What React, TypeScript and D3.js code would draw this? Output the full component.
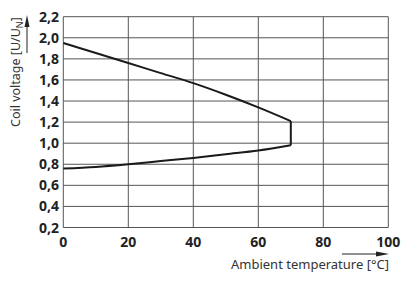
import React from "react";
import * as d3 from "d3";

const xTicks = [0, 20, 40, 60, 80, 100];
const yTicks = [0.2, 0.4, 0.6, 0.8, 1.0, 1.2, 1.4, 1.6, 1.8, 2.0, 2.2];
const upperTemp = [0, 10, 20, 30, 40, 50, 60, 70];
const upperVolt = [1.95, 1.855, 1.76, 1.665, 1.57, 1.46, 1.34, 1.21];
const lowerTemp = [70, 60, 50, 40, 30, 20, 10, 0];
const lowerVolt = [0.98, 0.93, 0.895, 0.86, 0.83, 0.80, 0.775, 0.76];

export default function App() {
  const W = 408, H = 287;
  const x = d3.scaleLinear().domain([0, 100]).range([63.3, 388.3]);
  const y = d3.scaleLinear().domain([0.2, 2.2]).range([227.5, 16.7]);
  const line = d3.line<[number, number]>().x(d => x(d[0])).y(d => y(d[1])).curve(d3.curveMonotoneX);
  const up = upperTemp.map((t, i) => [t, upperVolt[i]] as [number, number]);
  const lo = lowerTemp.map((t, i) => [t, lowerVolt[i]] as [number, number]).reverse();
  const pathUp = line(up) || "";
  const pathLo = line(lo) || "";
  const vert = `M${x(upperTemp[upperTemp.length - 1])},${y(upperVolt[upperVolt.length - 1])}L${x(lowerTemp[0])},${y(lowerVolt[0])}`;
  const font = "'Noto Sans', sans-serif";
  return (
    <svg width={W} height={H} style={{ position: "absolute", left: 0, top: 0, background: "#fff" }} fontFamily={font}>
      <rect width={W} height={H} fill="#fff" />
      {yTicks.map(v => (
        <line key={"gy" + v} x1={x(0)} x2={x(100)} y1={y(v)} y2={y(v)} stroke="#555" strokeWidth={1} />
      ))}
      {xTicks.map(v => (
        <line key={"gx" + v} x1={x(v)} x2={x(v)} y1={y(0.2)} y2={y(2.2)} stroke="#555" strokeWidth={1} />
      ))}
      <path d={pathUp} fill="none" stroke="#1a1a1a" strokeWidth={2} />
      <path d={pathLo} fill="none" stroke="#1a1a1a" strokeWidth={2} />
      <path d={vert} fill="none" stroke="#1a1a1a" strokeWidth={2} />
      {yTicks.map(v => (
        <text key={"ty" + v} x={59} y={y(v)} dy="0.36em" textAnchor="end" fontSize={14} fontWeight="bold" fill="#222">
          {v.toFixed(1).replace(".", ",")}
        </text>
      ))}
      {xTicks.map(v => (
        <text key={"tx" + v} x={x(v)} y={247} textAnchor="middle" fontSize={14} fontWeight="bold" fill="#222">
          {v}
        </text>
      ))}
      <text x={389} y={269} textAnchor="end" fontSize={13} fill="#333">Ambient temperature [°C]</text>
      <line x1={342} x2={378} y1={254} y2={254} stroke="#222" strokeWidth={1} />
      <path d="M376,251.5 L389,254 L376,256.5 Z" fill="#222" />
      <text transform="translate(19.5,127) rotate(-90)" fontSize={12.5} fill="#333">
        Coil voltage [U/U<tspan fontSize={9} dy={3}>N</tspan><tspan dy={-3}>]</tspan>
      </text>
      <line x1={27} x2={27} y1={53} y2={24} stroke="#222" strokeWidth={1} />
      <path d="M24.5,27 L27,15 L29.5,27 Z" fill="#222" />
    </svg>
  );
}
